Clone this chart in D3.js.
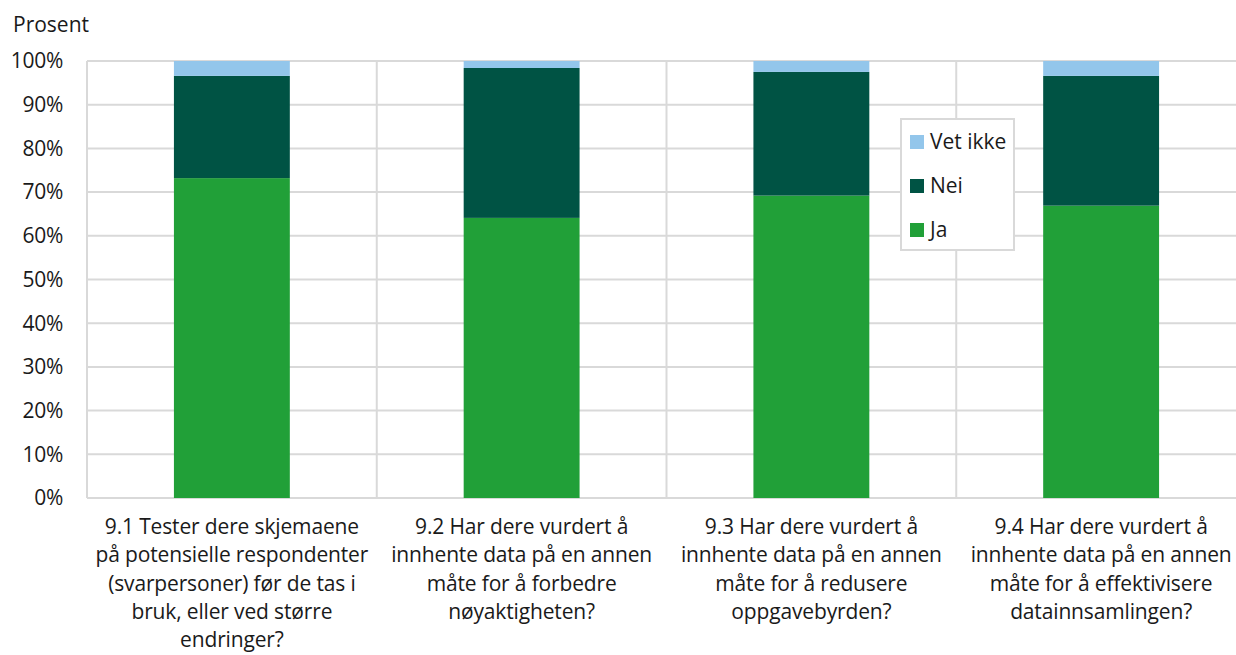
<!DOCTYPE html>
<html>
<head>
<meta charset="utf-8">
<script src="https://cdn.jsdelivr.net/npm/d3@7"></script>
<style>
  body { margin: 0; background: #fff; }
  text { font-family: "Open Sans", sans-serif; fill: #1a1a1a; }
</style>
</head>
<body>
<svg id="chart" width="1236" height="655"></svg>
<script>
// data
let categories = ["9.1", "9.2", "9.3", "9.4"];
let categoryLabels = [
    ["9.1 Tester dere skjemaene", "på potensielle respondenter", "(svarpersoner) før de tas i", "bruk, eller ved større", "endringer?"],
    ["9.2 Har dere vurdert å", "innhente data på en annen", "måte for å forbedre", "nøyaktigheten?"],
    ["9.3 Har dere vurdert å", "innhente data på en annen", "måte for å redusere", "oppgavebyrden?"],
    ["9.4 Har dere vurdert å", "innhente data på en annen", "måte for å effektivisere", "datainnsamlingen?"]
];
let seriesNames = ["Ja", "Nei", "Vet ikke"];
let ja      = [73.2, 64.1, 69.2, 66.9];
let nei     = [23.4, 34.3, 28.3, 29.7];
let vetIkke = [3.4, 1.6, 2.5, 3.4];
let yTicks = [0, 10, 20, 30, 40, 50, 60, 70, 80, 90, 100];

// General Variables
let chart = d3.select("#chart");
let plotLeft = 87, plotRight = 1246, plotTop = 61, plotBottom = 498;
let gridColor = "#d9d9d9";
let fontSize = "21px";

let colorScale = d3.scaleOrdinal()
    .domain(seriesNames)
    .range(["#21a038", "#005344", "#93c6eb"]);

let rows = categories.map(function(c, i) {
    return { cat: c, "Ja": ja[i], "Nei": nei[i], "Vet ikke": vetIkke[i] };
});

let x = d3.scaleBand()
    .domain(categories)
    .range([plotLeft, plotRight])
    .paddingInner(0.6)
    .paddingOuter(0.3);

let y = d3.scaleLinear()
    .domain([0, 100])
    .range([plotBottom, plotTop]);

// horizontal gridlines
chart.selectAll("grid")
    .data(yTicks)
    .enter()
    .append("line")
    .attr("x1", plotLeft)
    .attr("x2", plotRight)
    .attr("y1", function(d) { return y(d); })
    .attr("y2", function(d) { return y(d); })
    .style("stroke", gridColor)
    .style("stroke-width", 2);

// category separators
let step = x.step();
chart.selectAll("sep")
    .data(categories)
    .enter()
    .append("line")
    .attr("x1", function(d) { return x(d) - step * 0.3; })
    .attr("x2", function(d) { return x(d) - step * 0.3; })
    .attr("y1", y(100))
    .attr("y2", y(0))
    .style("stroke", gridColor)
    .style("stroke-width", 2);

// y tick labels
chart.selectAll("ylabels")
    .data(yTicks)
    .enter()
    .append("text")
    .attr("x", 63)
    .attr("y", function(d) { return y(d); })
    .attr("dy", "0.35em")
    .style("text-anchor", "end")
    .style("font-size", fontSize)
    .style("letter-spacing", "-0.3px")
    .text(function(d) { return d + "%"; });

chart.append("text")
    .attr("x", 13)
    .attr("y", 32)
    .style("font-size", fontSize)
    .text("Prosent");

// stacked bars
let stack = d3.stack().keys(seriesNames);
let layers = stack(rows);

chart.selectAll("layer")
    .data(layers)
    .enter()
    .append("g")
    .attr("fill", function(d) { return colorScale(d.key); })
    .selectAll("rect")
    .data(function(d) { return d; })
    .enter()
    .append("rect")
    .attr("x", function(d) { return x(d.data.cat); })
    .attr("width", x.bandwidth())
    .attr("y", function(d) { return y(d[1]); })
    .attr("height", function(d) { return y(d[0]) - y(d[1]); });

// category labels
let labelGroups = chart.selectAll("xlabels")
    .data(categories)
    .enter()
    .append("text")
    .attr("x", function(d) { return x(d) + x.bandwidth() / 2; })
    .attr("y", 534)
    .style("text-anchor", "middle")
    .style("font-size", fontSize)
    .style("letter-spacing", "-0.15px");

labelGroups.selectAll("tspan")
    .data(function(d, i) { return categoryLabels[i]; })
    .enter()
    .append("tspan")
    .attr("x", function() { return d3.select(this.parentNode).attr("x"); })
    .attr("dy", function(d, i) { return i === 0 ? 0 : 28.3; })
    .text(function(d) { return d; });

// legend
let legendKeys = ["Vet ikke", "Nei", "Ja"];
chart.append("rect")
    .attr("x", 901)
    .attr("y", 119)
    .attr("width", 113)
    .attr("height", 131)
    .style("fill", "#fff")
    .style("stroke", gridColor)
    .style("stroke-width", 2);

chart.selectAll("legdots")
    .data(legendKeys)
    .enter()
    .append("rect")
    .attr("x", 910)
    .attr("y", function(d, i) { return 135 + i * 44; })
    .attr("width", 14)
    .attr("height", 14)
    .style("fill", function(d) { return colorScale(d); });

chart.selectAll("leglabels")
    .data(legendKeys)
    .enter()
    .append("text")
    .attr("x", 930)
    .attr("y", function(d, i) { return 142 + i * 44; })
    .attr("dy", "0.35em")
    .style("font-size", fontSize)
    .text(function(d) { return d; });
</script>
</body>
</html>
